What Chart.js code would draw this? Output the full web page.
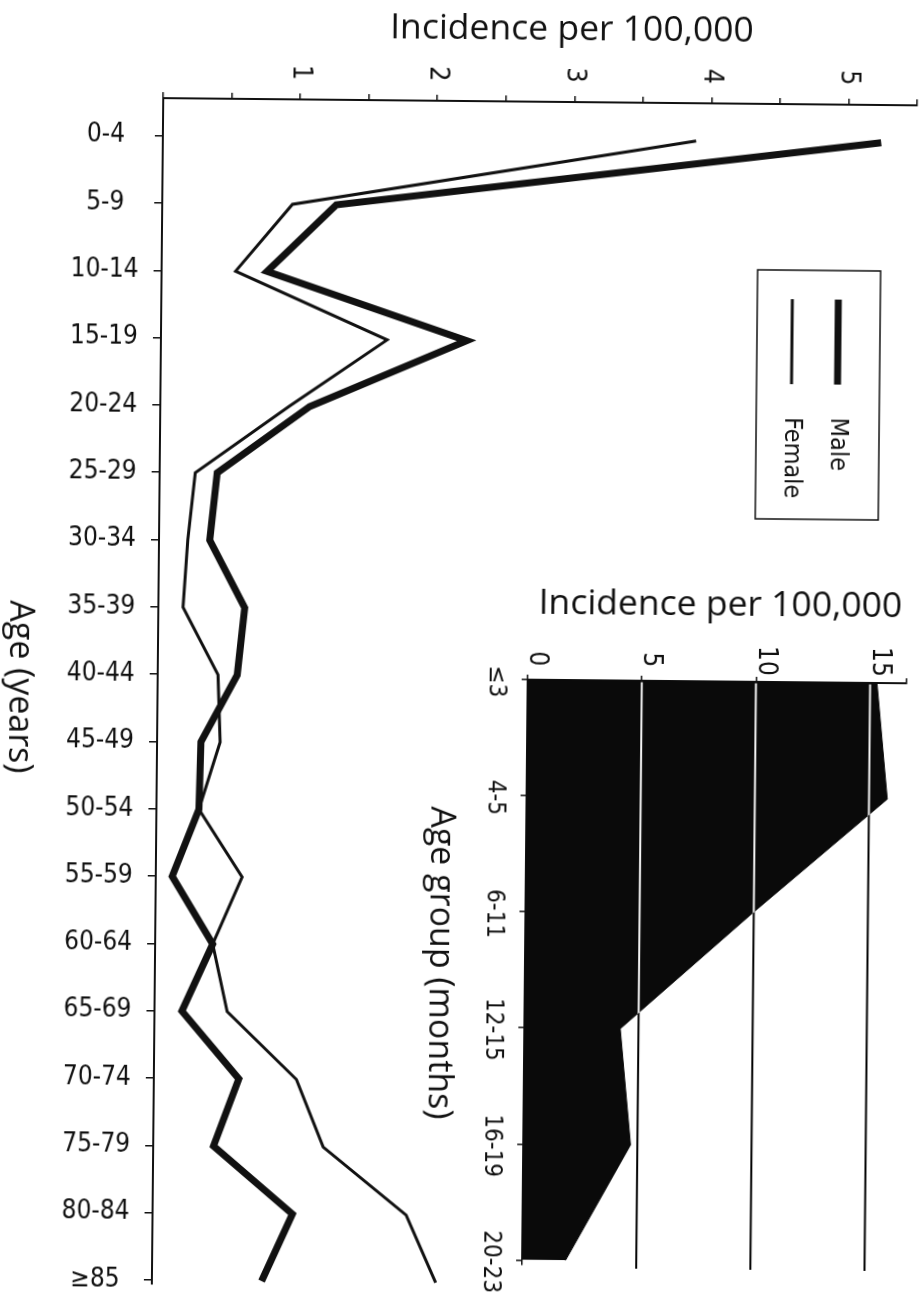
<!DOCTYPE html>
<html>
<head>
<meta charset="utf-8">
<script src="https://cdn.jsdelivr.net/npm/chart.js@4.4.1/dist/chart.umd.min.js"></script>
<style>
  html, body { margin: 0; padding: 0; background: #fff; }
  #page { position: relative; width: 922px; height: 1293px; background: #fff;
          transform: rotate(0.55deg); transform-origin: 461px 646px; overflow: hidden; }
  #main { position: absolute; left: 0; top: 0; }
  #inset { position: absolute; left: 420px; top: 560px; }
</style>
</head>
<body>
<div id="page">
  <canvas id="main" width="922" height="1293"></canvas>
  <canvas id="inset" width="502" height="733"></canvas>
</div>
<script>
// main chart: incidence by age (years)
const ageGroups = ['0-4', '5-9', '10-14', '15-19', '20-24', '25-29', '30-34', '35-39', '40-44',
  '45-49', '50-54', '55-59', '60-64', '65-69', '70-74', '75-79', '80-84', '≥85'];
const maleIncidence = [5.24, 1.27, 0.77, 2.23, 1.09, 0.42, 0.37, 0.63, 0.58,
  0.32, 0.31, 0.12, 0.42, 0.20, 0.62, 0.44, 1.02, 0.80];
const femaleIncidence = [3.89, 0.95, 0.54, 1.65, 0.94, 0.26, 0.21, 0.18, 0.44,
  0.46, 0.31, 0.63, 0.42, 0.53, 1.04, 1.24, 1.85, 2.07];
const incidenceTicks = [1, 2, 3, 4, 5];

// inset: incidence by age group (months)
const monthGroups = ['≤3', '4-5', '6-11', '12-15', '16-19', '20-23'];
const infantIncidence = [15.3, 15.8, 9.9, 4.2, 4.7, 1.9];
const infantTicks = [0, 5, 10, 15];

const INK = '#111';
const narrow = "'Liberation Sans Narrow', 'DejaVu Sans Condensed', sans-serif";
const titleFont = "'Open Sans', 'DejaVu Sans', sans-serif";

function toPoints(values) {
  return values.map((v, i) => ({ x: v, y: i }));
}

// text rotated 90deg clockwise (reads top to bottom)
function sideText(ctx, text, x, y, font, align) {
  ctx.save();
  ctx.translate(x, y);
  ctx.rotate(Math.PI / 2);
  ctx.font = font;
  ctx.fillStyle = INK;
  ctx.textAlign = align || 'center';
  ctx.textBaseline = 'middle';
  ctx.fillText(text, 0, 0);
  ctx.restore();
}

const mainText = {
  id: 'mainText',
  afterDraw(chart) {
    const ctx = chart.ctx;
    const xs = chart.scales.x;
    ctx.save();
    ctx.fillStyle = INK;
    ctx.font = '35.5px ' + titleFont;
    ctx.textAlign = 'center';
    ctx.textBaseline = 'middle';
    ctx.fillText('Incidence per 100,000', 566, 29);
    ctx.restore();

    incidenceTicks.forEach(v => {
      sideText(ctx, String(v), xs.getPixelForValue(v), 74, '27px ' + narrow);
    });
    sideText(ctx, 'Age (years)', 20, 691, '34px ' + titleFont);

    // legend box
    ctx.save();
    ctx.strokeStyle = INK;
    ctx.lineWidth = 1.5;
    ctx.strokeRect(754, 267, 123, 249);
    chart.data.datasets.forEach((ds, i) => {
      const x = 835 - i * 46;
      ctx.beginPath();
      ctx.lineWidth = ds.borderWidth;
      ctx.moveTo(x, 296);
      ctx.lineTo(x, 381);
      ctx.stroke();
      sideText(ctx, ds.label, x, 414, '25px ' + narrow, 'left');
    });
    ctx.restore();
  }
};

const insetPaint = {
  id: 'insetPaint',
  beforeDraw(chart) {
    const a = chart.chartArea;
    const ctx = chart.ctx;
    ctx.save();
    ctx.fillStyle = '#fff';
    ctx.fillRect(a.left, a.top, a.right - a.left + 4, a.bottom - a.top + 6);
    ctx.restore();
  },
  afterDatasetsDraw(chart) {
    // grid lines show white over the dark area and black over the paper
    const a = chart.chartArea;
    const ctx = chart.ctx;
    const xs = chart.scales.x;
    ctx.save();
    ctx.globalCompositeOperation = 'difference';
    ctx.strokeStyle = '#fff';
    ctx.lineWidth = 2;
    infantTicks.slice(1).forEach(v => {
      const x = xs.getPixelForValue(v);
      ctx.beginPath();
      ctx.moveTo(x, a.top + 1.5);
      ctx.lineTo(x, a.bottom + 3);
      ctx.stroke();
    });
    ctx.restore();
  },
  afterDraw(chart) {
    const ctx = chart.ctx;
    const xs = chart.scales.x;
    const ys = chart.scales.y;
    ctx.save();
    ctx.fillStyle = INK;
    ctx.font = '35.5px ' + titleFont;
    ctx.textAlign = 'center';
    ctx.textBaseline = 'middle';
    ctx.fillText('Incidence per 100,000', 300, 43);
    ctx.restore();
    infantTicks.forEach(v => {
      sideText(ctx, String(v), xs.getPixelForValue(v) + 9, 98, '26px ' + narrow);
    });
    monthGroups.forEach((g, i) => {
      sideText(ctx, g, 76, ys.getPixelForValue(i) + 2, '24px ' + narrow);
    });
    sideText(ctx, 'Age group (months)', 23, 403, '34px ' + titleFont);
  }
};

function drawCharts() {
  new Chart(document.getElementById('main'), {
    type: 'line',
    data: {
      datasets: [
        {
          label: 'Male',
          data: toPoints(maleIncidence),
          borderColor: INK,
          borderWidth: 7,
          pointRadius: 0,
          borderJoinStyle: 'miter',
          fill: false
        },
        {
          label: 'Female',
          data: toPoints(femaleIncidence),
          borderColor: INK,
          borderWidth: 3,
          pointRadius: 0,
          borderJoinStyle: 'miter',
          fill: false
        }
      ]
    },
    options: {
      indexAxis: 'y',
      responsive: false,
      animation: false,
      layout: { padding: { left: 0, top: 0, right: 10, bottom: 6 } },
      plugins: { legend: { display: false }, tooltip: { enabled: false } },
      scales: {
        x: {
          type: 'linear',
          position: 'top',
          min: 0,
          max: 5.5,
          ticks: { stepSize: 0.5, display: false },
          grid: { drawOnChartArea: false, drawTicks: true, tickLength: 6, color: INK, lineWidth: 1.5 },
          border: { display: true, color: INK, width: 2 },
          afterFit: scale => { scale.height = 101; }
        },
        y: {
          type: 'linear',
          reverse: true,
          min: -0.56,
          max: 17.06,
          afterBuildTicks: scale => { scale.ticks = ageGroups.map((_, i) => ({ value: i })); },
          ticks: {
            callback: v => ageGroups[v],
            crossAlign: 'center',
            padding: 15,
            color: INK,
            font: { family: narrow, size: 26 }
          },
          grid: { drawOnChartArea: false, drawTicks: true, tickLength: 8, color: INK, lineWidth: 1.5 },
          border: { display: true, color: INK, width: 2 },
          afterFit: scale => {
            scale.width = 158;
            scale.paddingTop = 0;
            scale.paddingBottom = 0;
          }
        }
      }
    },
    plugins: [mainText]
  });

  new Chart(document.getElementById('inset'), {
    type: 'line',
    data: {
      datasets: [{
        label: 'Incidence',
        data: toPoints(infantIncidence),
        borderColor: '#0a0a0a',
        backgroundColor: '#0a0a0a',
        borderWidth: 1,
        pointRadius: 0,
        fill: 'origin'
      }]
    },
    options: {
      indexAxis: 'y',
      responsive: false,
      animation: false,
      layout: { padding: { left: 0, top: 0, right: 15, bottom: 29 } },
      plugins: { legend: { display: false }, tooltip: { enabled: false } },
      scales: {
        x: {
          type: 'linear',
          position: 'top',
          min: 0,
          max: 16.6,
          ticks: { stepSize: 5, display: false },
          grid: { drawOnChartArea: false, drawTicks: true, tickLength: 5, color: INK, lineWidth: 1.5 },
          border: { display: true, color: INK, width: 2 },
          afterFit: scale => { scale.height = 119; }
        },
        y: {
          type: 'linear',
          reverse: true,
          min: 0,
          max: 5.04,
          afterBuildTicks: scale => { scale.ticks = monthGroups.map((_, i) => ({ value: i })); },
          ticks: { display: false },
          grid: { drawOnChartArea: false, drawTicks: true, tickLength: 6, color: INK, lineWidth: 1.5 },
          border: { display: true, color: INK, width: 1.5 },
          afterFit: scale => {
            scale.width = 108;
            scale.paddingTop = 0;
            scale.paddingBottom = 0;
          }
        }
      }
    },
    plugins: [insetPaint]
  });
}

const fontLoads = [
  '34px "Open Sans"',
  '26px "DejaVu Sans Condensed"'
].map(f => document.fonts.load(f).catch(() => null));
Promise.all(fontLoads).then(drawCharts, drawCharts);
</script>
</body>
</html>
